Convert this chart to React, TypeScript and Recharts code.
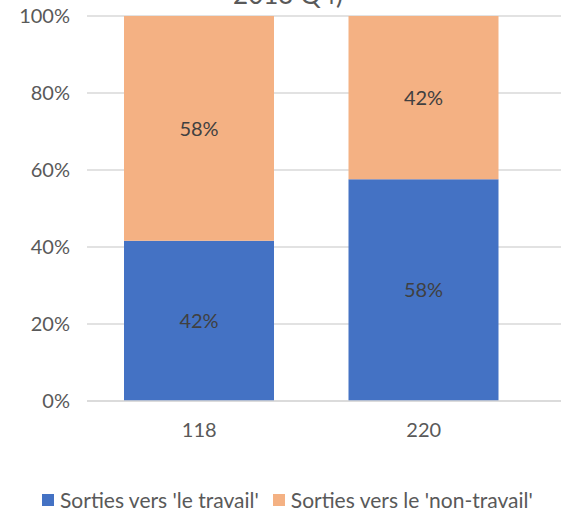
import { BarChart, Bar, XAxis, YAxis, CartesianGrid, Legend, LabelList } from 'recharts'

const categories = ['118', '220']
const travail = [41.6, 57.6]
const nonTravail = [58.4, 42.4]
const yTicks = [0, 20, 40, 60, 80, 100]

const BLUE = '#4472C4'
const ORANGE = '#F4B183'
const TEXT = '#595959'
const FONT = 'Lato, "Noto Sans", sans-serif'

const data = categories.map((c, i) => ({ name: c, travail: travail[i], nonTravail: nonTravail[i] }))

const legendItems = [
  { label: "Sorties vers 'le travail'", color: BLUE },
  { label: "Sorties vers le 'non-travail'", color: ORANGE },
]

const LegendContent = () => (
  <div style={{ display: 'flex', alignItems: 'center', paddingLeft: 42, whiteSpace: 'nowrap', fontFamily: FONT, fontSize: 21, color: TEXT }}>
    {legendItems.map((it) => (
      <div key={it.label} style={{ display: 'flex', alignItems: 'center', marginRight: 14 }}>
        <div style={{ width: 12, height: 12, background: it.color, marginRight: 6 }} />
        <span>{it.label}</span>
      </div>
    ))}
  </div>
)

export default function App() {
  const pct = (v: any) => `${Math.round(Number(v))}%`
  return (
    <div style={{ position: 'absolute', left: 0, top: 0, width: 561, height: 519, overflow: 'hidden', background: '#fff' }}>
      <svg width={561} height={20} style={{ position: 'absolute', left: 0, top: 0 }}>
        <text x={288} y={4} textAnchor="middle" fontFamily={FONT} fontSize={26} fill={TEXT}>
          2013 Q4)
        </text>
      </svg>
      <BarChart
        width={600}
        height={519}
        data={data}
        margin={{ top: 16, right: 0, left: 0, bottom: 0 }}
        style={{ position: 'absolute', left: 0, top: 0 }}
      >
        <CartesianGrid vertical={false} stroke="#d9d9d9" strokeWidth={1.5} />
        <XAxis
          dataKey="name"
          height={88}
          padding={{ left: 0, right: 64 }}
          tickLine={false}
          axisLine={{ stroke: '#d9d9d9', strokeWidth: 1.5 }}
          tickSize={0}
          tickMargin={22}
          tick={{ fill: TEXT, fontSize: 20, fontFamily: FONT }}
        />
        <YAxis
          width={87}
          domain={[0, 100]}
          ticks={yTicks}
          tickFormatter={(v: number) => `${v}%`}
          axisLine={false}
          tickLine={false}
          tickSize={0}
          tickMargin={17}
          tick={{ fill: TEXT, fontSize: 20, fontFamily: FONT }}
        />
        <Legend verticalAlign="bottom" align="left" height={30} content={<LegendContent />} wrapperStyle={{ bottom: 2, left: 0 }} />
        <Bar dataKey="travail" stackId="a" fill={BLUE} barSize={150} isAnimationActive={false}>
          <LabelList dataKey="travail" position="center" formatter={pct} fill="#404040" fontSize={20} fontFamily={FONT} />
        </Bar>
        <Bar dataKey="nonTravail" stackId="a" fill={ORANGE} barSize={150} isAnimationActive={false}>
          <LabelList dataKey="nonTravail" position="center" formatter={pct} fill="#404040" fontSize={20} fontFamily={FONT} />
        </Bar>
      </BarChart>
    </div>
  )
}
